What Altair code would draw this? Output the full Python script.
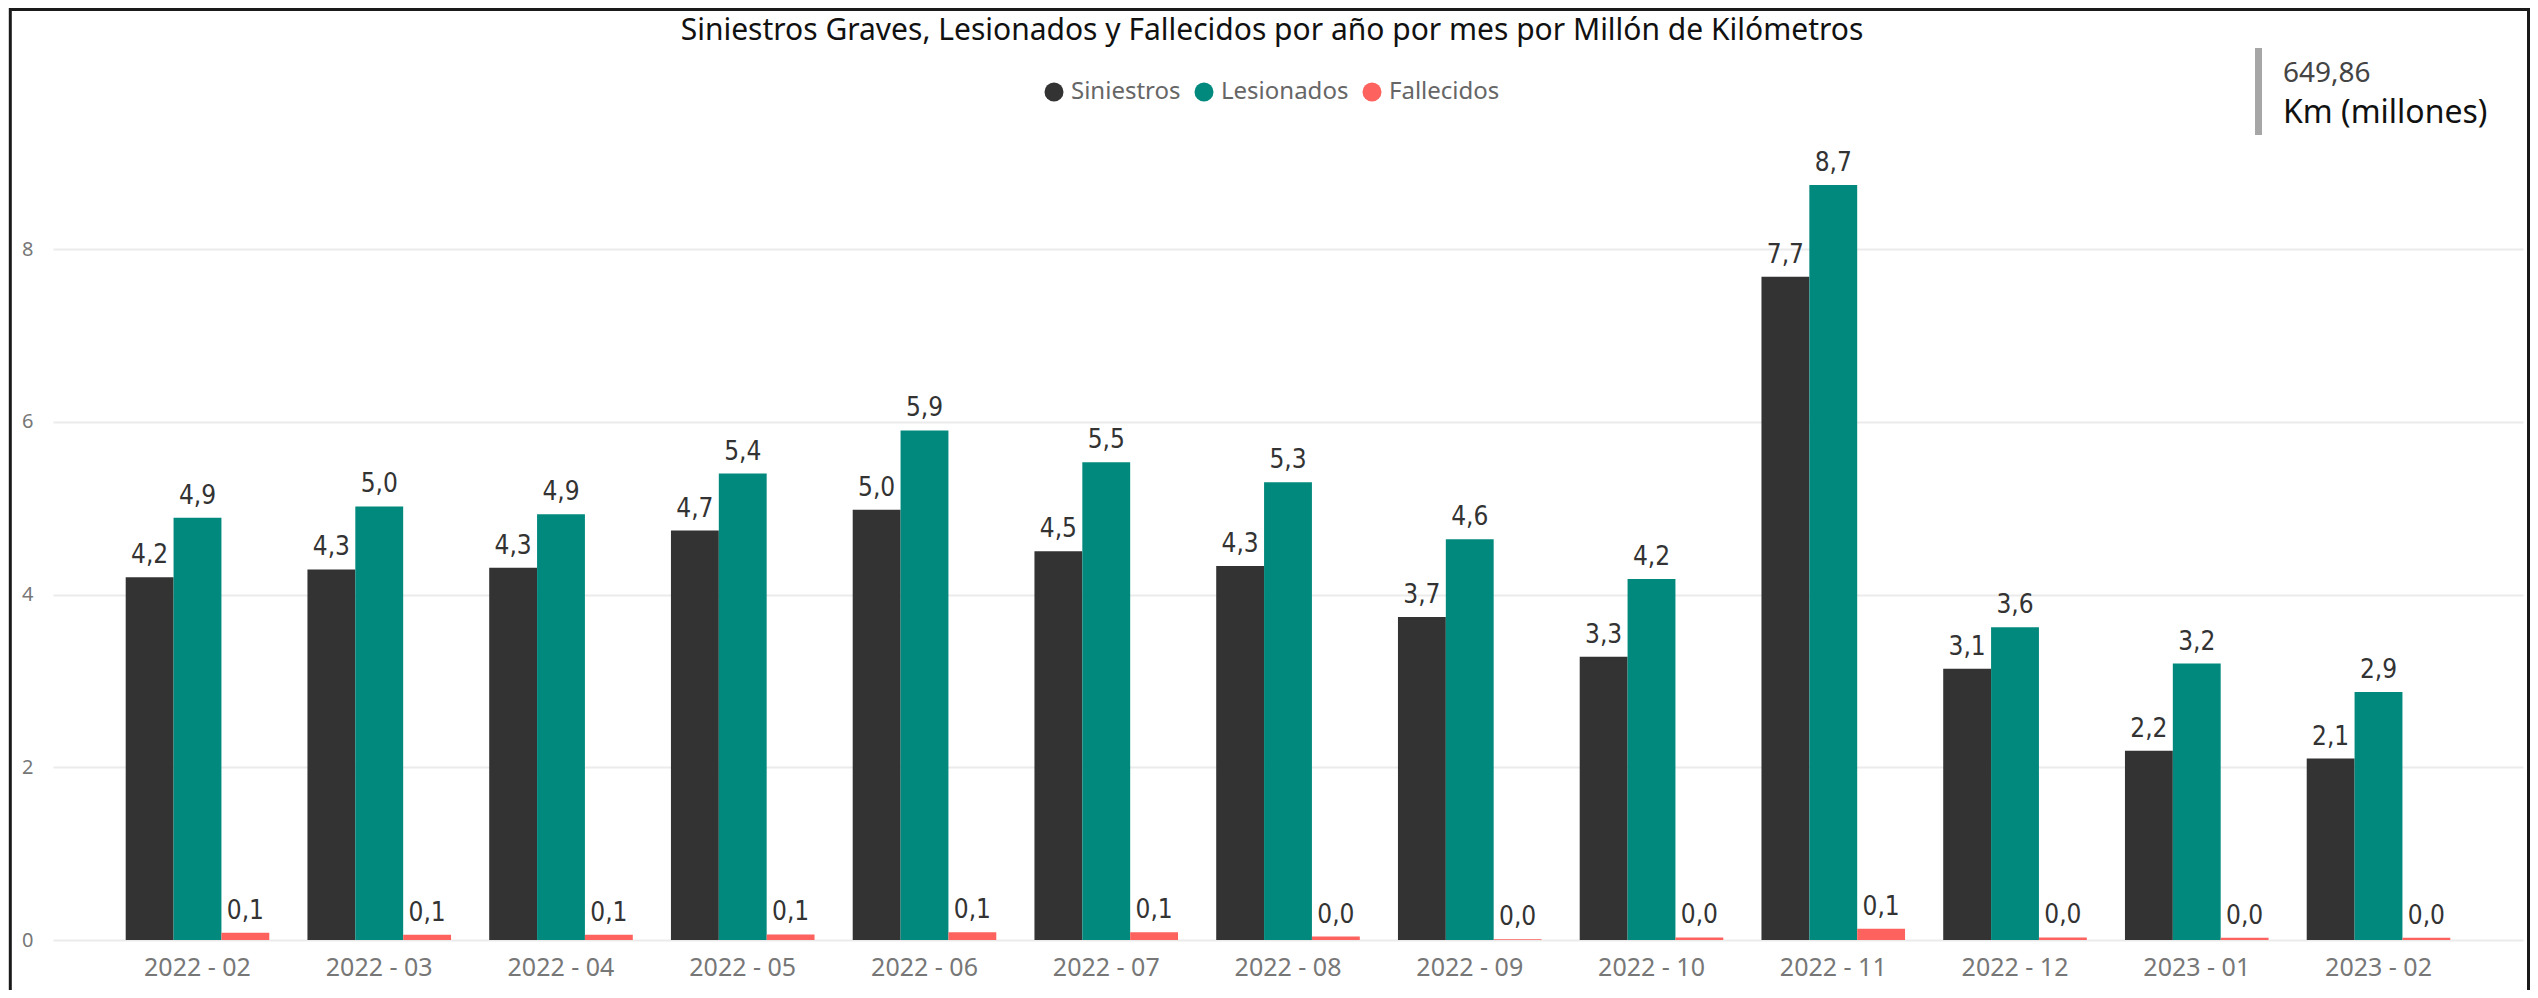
import altair as alt
import pandas as pd

# ---- data ----
months = ["2022 - 02", "2022 - 03", "2022 - 04", "2022 - 05", "2022 - 06", "2022 - 07",
          "2022 - 08", "2022 - 09", "2022 - 10", "2022 - 11", "2022 - 12", "2023 - 01", "2023 - 02"]
siniestros = [4.20, 4.29, 4.31, 4.74, 4.98, 4.50, 4.33, 3.74, 3.28, 7.68, 3.14, 2.19, 2.10]
lesionados = [4.89, 5.02, 4.93, 5.40, 5.90, 5.53, 5.30, 4.64, 4.18, 8.74, 3.62, 3.20, 2.87]
fallecidos = [0.085, 0.06, 0.06, 0.065, 0.09, 0.09, 0.04, 0.01, 0.03, 0.13, 0.03, 0.027, 0.027]
series = ["Siniestros", "Lesionados", "Fallecidos"]
colors = ["#333333", "#02897E", "#FD625E"]
y_ticks = [0, 2, 4, 6, 8]
title_text = "Siniestros Graves, Lesionados y Fallecidos por año por mes por Millón de Kilómetros"
kpi_value = [649.86]
kpi_label = ["Km (millones)"]

rows = []
for i, m in enumerate(months):
    for s, vals in zip(series, [siniestros, lesionados, fallecidos]):
        rows.append({"mes": m, "serie": s, "valor": vals[i]})
df = pd.DataFrame(rows)
title_df = pd.DataFrame({"t": [title_text]})
kpi_df = pd.DataFrame({"v": kpi_value, "lab": kpi_label})

base = alt.Chart(df).encode(
    x=alt.X("mes:N", sort=months,
            scale=alt.Scale(paddingInner=0.21, paddingOuter=0.4),
            axis=alt.Axis(title=None, labelAngle=0, domain=False, ticks=False,
                          labelFont="Noto Sans", labelFontSize=25, labelColor="#777777",
                          labelPadding=15)),
    xOffset=alt.XOffset("serie:N", sort=series,
                        scale=alt.Scale(paddingInner=0, paddingOuter=0)),
    y=alt.Y("valor:Q", scale=alt.Scale(domain=[0, 9.378], nice=False, zero=True),
            axis=alt.Axis(title=None, values=y_ticks, domain=False, ticks=False,
                          grid=True, gridColor="#EBEBEB", gridWidth=2,
                          labelFont="Noto Sans", labelFontSize=20, labelColor="#777777",
                          labelPadding=20)),
)

bars = base.mark_bar().encode(
    color=alt.Color("serie:N", sort=series,
                    scale=alt.Scale(domain=series, range=colors),
                    legend=alt.Legend(orient="none", legendX=989, legendY=-50,
                                      direction="horizontal", title=None,
                                      symbolType="circle", symbolSize=361,
                                      symbolStrokeWidth=0, labelFont="Noto Sans",
                                      labelFontSize=24, labelColor="#666666",
                                      labelOffset=5, columnPadding=11, padding=0))
)

labels = base.transform_calculate(
    etiqueta="replace(format(datum.valor, '.1f'), '.', ',')"
).mark_text(baseline="alphabetic", align="center", dy=-14, fontSize=26, fontWeight=500,
            font="Liberation Sans Narrow, DejaVu Sans Condensed, Roboto",
            color="#333333").encode(text="etiqueta:N")

title_mark = alt.Chart(title_df).mark_text(
    align="center", baseline="alphabetic", font="Noto Sans", fontSize=30, color="#111111"
).encode(x=alt.value(1219), y=alt.value(-90), text="t:N")

kpi_bar = alt.Chart(kpi_df).mark_rule(color="#A6A6A6", strokeWidth=7).encode(
    x=alt.value(2205.5), y=alt.value(-82), y2=alt.value(5))

kpi_num = alt.Chart(kpi_df).transform_calculate(
    txt="replace(format(datum.v, '.2f'), '.', ',')"
).mark_text(align="left", baseline="alphabetic", font="Noto Sans", fontSize=28,
            color="#444444").encode(x=alt.value(2230), y=alt.value(-48), text="txt:N")

kpi_lab = alt.Chart(kpi_df).mark_text(
    align="left", baseline="alphabetic", font="Noto Sans", fontSize=32, color="#111111"
).encode(x=alt.value(2230), y=alt.value(-7), text="lab:N")

border = alt.Chart(kpi_df).mark_rect(fillOpacity=0, stroke="#1a1a1a", strokeWidth=3).encode(
    x=alt.value(-42.7), x2=alt.value(2475.5), y=alt.value(-120.5), y2=alt.value(950))

chart = alt.layer(border, bars, labels, title_mark, kpi_bar, kpi_num, kpi_lab).properties(
    width=2470, height=810,
    autosize=alt.AutoSizeParams(type="none"),
    padding={"left": 45, "top": 122, "right": 7, "bottom": 50},
    background="white",
).configure_view(stroke=None)

chart.save("out.html", embed_options={"renderer": "svg", "actions": False})
